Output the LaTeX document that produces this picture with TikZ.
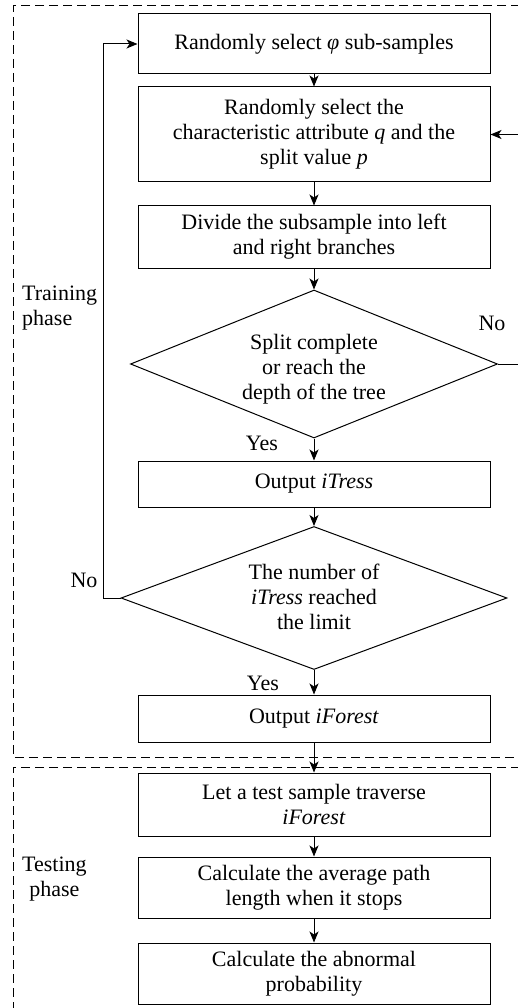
\documentclass[tikz,border=0pt]{standalone}
\usepackage{fontspec}
\setmainfont{Liberation Serif}
\usetikzlibrary{arrows.meta,shapes.geometric}
\tikzset{
  stepbox/.style = {draw, line width=1pt, minimum width=352pt, align=center, inner sep=0pt},
  decision/.style = {draw, diamond, line width=1pt, inner sep=0pt},
  flow/.style = {-{Stealth[length=11pt,width=9pt,inset=3pt]}, line width=1pt},
  phaseframe/.style = {dash pattern=on 9pt off 5pt, line width=1pt},
  tag/.style = {inner sep=0pt}
}
\begin{document}
\begin{tikzpicture}[x=1pt,y=-1pt, every node/.style={font=\fontsize{22}{25}\selectfont}]
\useasboundingbox (0,0) rectangle (518,1008);

% phase frames
\draw[phaseframe] (520,6) -- (13,6) -- (13,757) -- (520,757);
\draw[phaseframe] (520,767) -- (13,767) -- (13,1012);

% training steps
\node[stepbox, minimum height=60pt] (sample) at (314,44) {Randomly select \textit{φ} sub-samples};
\node[stepbox, minimum height=95pt] (attr) at (314,134.5) {Randomly select the\\characteristic attribute \textit{q} and the\\split value \textit{p}};
\node[stepbox, minimum height=62pt] (divide) at (314,237) {Divide the subsample into left\\and right branches};
\node[decision, minimum width=367pt, minimum height=148pt] (split) at (314,364) {};
\node[tag, align=center] (splittext) at (314,369) {Split complete\\or reach the\\depth of the tree};
\node[stepbox, minimum height=46pt] (tree) at (314,484) {Output \textit{iTress}};
\node[decision, minimum width=386pt, minimum height=143pt] (limit) at (314,598) {};
\node[tag, align=center] (limittext) at (314,597) {The number of\\\textit{iTress} reached\\the limit};
\node[stepbox, minimum height=47pt] (forest) at (314,718.5) {Output \textit{iForest}};

% testing steps
\node[stepbox, minimum height=63pt] (traverse) at (314,804.5) {Let a test sample traverse\\\textit{iForest}};
\node[stepbox, minimum height=61pt] (pathlen) at (314,887.5) {Calculate the average path\\length when it stops};
\node[stepbox, minimum height=61pt] (prob) at (314,973.5) {Calculate the abnormal\\probability};

% labels
\node[tag, align=left, anchor=west] (training) at (22,308) {Training\\phase};
\node[tag, align=center, anchor=west] (testing) at (22,879) {Testing\\phase};
\node[tag] (no1) at (492,323) {No};
\node[tag] (yes1) at (262,443) {Yes};
\node[tag] (no2) at (84,580) {No};
\node[tag] (yes2) at (263,683) {Yes};

% connectors
\draw[flow] (sample) -- (attr);
\draw[flow] (attr) -- (divide);
\draw[flow] (divide) -- (split.north);
\draw[flow] (split.south) -- (tree);
\draw[flow] (tree) -- (limit.north);
\draw[flow] (limit.south) -- (forest);
\draw[flow] (forest) -- (traverse);
\draw[flow] (traverse) -- (pathlen);
\draw[flow] (pathlen) -- (prob);
\draw[flow] (split.east) -- ++(20,0) |- (attr.east);
\draw[flow] (limit.west) -- ++(-17,0) |- (sample.west);

\end{tikzpicture}
\end{document}
